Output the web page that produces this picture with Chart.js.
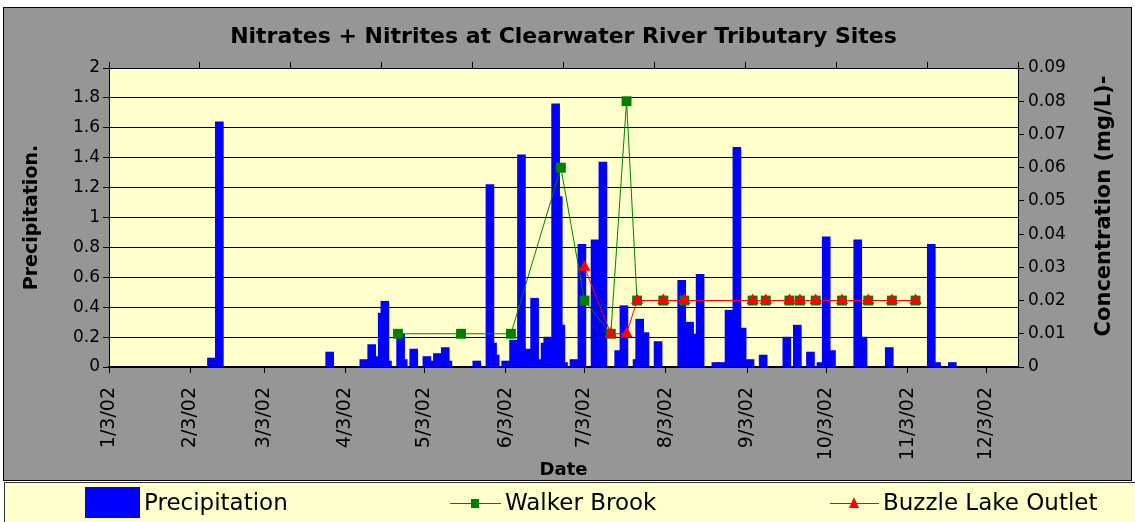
<!DOCTYPE html>
<html>
<head>
<meta charset="utf-8">
<script src="https://cdn.jsdelivr.net/npm/chart.js@4.4.1/dist/chart.umd.min.js"></script>
<style>
  html, body { margin: 0; padding: 0; background: #fff; }
  #wrap { width: 1135px; height: 522px; }
</style>
</head>
<body>
<div id="wrap"><canvas id="grafico" width="1135" height="522"></canvas></div>
<script>
// dados (datas em m/d de 2002)
const tickLabels = ['1/3/02', '2/3/02', '3/3/02', '4/3/02', '5/3/02', '6/3/02',
  '7/3/02', '8/3/02', '9/3/02', '10/3/02', '11/3/02', '12/3/02'];

const precipDates = ['2/11', '2/14', '3/28', '4/10', '4/13', '4/14', '4/17', '4/18', '4/19',
  '4/24', '4/25', '4/29', '5/4', '5/5', '5/8', '5/11', '5/12', '5/23', '5/28', '5/29', '5/30',
  '6/3', '6/6', '6/9', '6/11', '6/12', '6/14', '6/16', '6/17', '6/18', '6/19', '6/22', '6/23',
  '6/24', '6/25', '6/29', '7/2', '7/7', '7/10', '7/16', '7/18', '7/23', '7/24', '7/26', '7/31',
  '8/9', '8/12', '8/14', '8/16', '8/22', '8/24', '8/27', '8/30', '9/1', '9/4', '9/9', '9/18',
  '9/22', '9/27', '10/1', '10/3', '10/5', '10/15', '10/17', '10/27', '11/12', '11/14', '11/20'];
const precipValues = [0.06, 1.64, 0.10, 0.05, 0.15, 0.07, 0.36, 0.44, 0.04,
  0.22, 0.05, 0.12, 0.07, 0.04, 0.09, 0.13, 0.04, 0.04, 1.22, 0.16, 0.08,
  0.04, 0.18, 1.42, 0.09, 0.12, 0.46, 0.03, 0.05, 0.16, 0.20, 1.76, 1.14,
  0.28, 0.03, 0.05, 0.82, 0.85, 1.37, 0.11, 0.41, 0.05, 0.32, 0.23, 0.17,
  0.58, 0.30, 0.22, 0.62, 0.03, 0.03, 0.38, 1.47, 0.26, 0.05, 0.08, 0.20,
  0.28, 0.10, 0.03, 0.87, 0.11, 0.85, 0.20, 0.13, 0.82, 0.03, 0.03];

const walkerDates = ['4/23', '5/17', '6/5', '6/24', '7/3', '7/13', '7/19', '7/23', '8/2', '8/10',
  '9/5', '9/10', '9/19', '9/23', '9/29', '10/9', '10/19', '10/28', '11/6'];
const walkerValues = [0.01, 0.01, 0.01, 0.06, 0.02, 0.01, 0.08, 0.02, 0.02, 0.02,
  0.02, 0.02, 0.02, 0.02, 0.02, 0.02, 0.02, 0.02, 0.02];

const buzzleDates = ['7/3', '7/13', '7/19', '7/23', '8/2', '8/10', '9/5', '9/10', '9/19',
  '9/23', '9/29', '10/9', '10/19', '10/28', '11/6'];
const buzzleValues = [0.03, 0.01, 0.01, 0.02, 0.02, 0.02, 0.02, 0.02, 0.02,
  0.02, 0.02, 0.02, 0.02, 0.02, 0.02];

// dias desde 3/1/2002
function dia(s) {
  const [m, d] = s.split('/').map(Number);
  return (Date.UTC(2002, m - 1, d) - Date.UTC(2002, 0, 3)) / 864e5;
}
const pontos = (datas, vals) => datas.map((d, i) => ({ x: dia(d), y: vals[i] }));

const FONTE = 'DejaVu Sans';
const AMARELO = '#FFFFCC';
const CINZA = '#969696';

const fundoPlugin = {
  id: 'fundo',
  beforeDraw(chart) {
    const { ctx, chartArea: a } = chart;
    ctx.save();
    ctx.fillStyle = '#fff';
    ctx.fillRect(0, 0, chart.width, chart.height);
    ctx.fillStyle = CINZA;
    ctx.fillRect(3, 7, 1129, 474);
    ctx.strokeStyle = '#000';
    ctx.lineWidth = 1;
    ctx.strokeRect(3.5, 7.5, 1128, 473);
    ctx.fillStyle = AMARELO;
    ctx.fillRect(4, 482, 1131, 40);
    ctx.strokeStyle = '#333';
    ctx.strokeRect(4.5, 482.5, 1131, 40);
    ctx.fillStyle = AMARELO;
    ctx.fillRect(a.left, a.top, a.right - a.left, a.bottom - a.top);
    ctx.restore();
  },
  afterDraw(chart) {
    const { ctx } = chart;
    const ds = chart.data.datasets;
    ctx.save();
    // título do eixo direito (lido de baixo para cima)
    ctx.fillStyle = '#000';
    ctx.font = 'bold 21px "' + FONTE + '"';
    ctx.textAlign = 'center';
    ctx.textBaseline = 'middle';
    ctx.translate(1105, 206);
    ctx.rotate(-Math.PI / 2);
    ctx.fillText('Concentration (mg/L)-', 0, 0);
    ctx.restore();

    // legenda
    ctx.save();
    const ly = 503;
    ctx.font = '23px "' + FONTE + '"';
    ctx.textBaseline = 'middle';
    ctx.textAlign = 'left';
    ctx.fillStyle = ds[0].backgroundColor;
    ctx.fillRect(85, 487, 55, 31);
    ctx.fillStyle = '#000';
    ctx.fillText(ds[0].label, 144, ly + 1);

    ctx.strokeStyle = ds[1].borderColor;
    ctx.lineWidth = 1;
    ctx.beginPath(); ctx.moveTo(450, ly + 0.5); ctx.lineTo(501, ly + 0.5); ctx.stroke();
    ctx.fillStyle = ds[1].pointBackgroundColor;
    ctx.fillRect(471, ly - 4, 8, 9);
    ctx.fillStyle = '#000';
    ctx.fillText(ds[1].label, 505, ly + 1);

    ctx.strokeStyle = ds[2].borderColor;
    ctx.beginPath(); ctx.moveTo(830, ly + 0.5); ctx.lineTo(879, ly + 0.5); ctx.stroke();
    ctx.fillStyle = ds[2].pointBackgroundColor;
    ctx.beginPath(); ctx.moveTo(854, ly - 6); ctx.lineTo(859, ly + 5); ctx.lineTo(849, ly + 5); ctx.closePath(); ctx.fill();
    ctx.fillStyle = '#000';
    ctx.fillText(ds[2].label, 883, ly + 1);
    ctx.restore();
  }
};

new Chart(document.getElementById('grafico'), {
  type: 'bar',
  data: {
    datasets: [
      {
        type: 'bar', label: 'Precipitation', data: pontos(precipDates, precipValues),
        xAxisID: 'x', yAxisID: 'y', backgroundColor: '#0000FF', borderWidth: 0,
        barThickness: 8, order: 2
      },
      {
        type: 'line', label: 'Walker Brook', data: pontos(walkerDates, walkerValues),
        xAxisID: 'x', yAxisID: 'y1', borderColor: '#008000', borderWidth: 1,
        pointStyle: 'rect', pointRadius: 7, pointBackgroundColor: '#008000',
        pointBorderWidth: 0, tension: 0, order: 1
      },
      {
        type: 'line', label: 'Buzzle Lake Outlet', data: pontos(buzzleDates, buzzleValues),
        xAxisID: 'x', yAxisID: 'y1', borderColor: '#FF0000', borderWidth: 1,
        pointStyle: 'triangle', pointRadius: 7, pointBackgroundColor: '#FF0000',
        pointBorderWidth: 0, tension: 0, order: 0
      }
    ]
  },
  options: {
    responsive: false,
    animation: false,
    devicePixelRatio: 1,
    layout: { padding: { left: 4, right: 3, top: 8, bottom: 41 } },
    plugins: {
      legend: { display: false },
      tooltip: { enabled: false },
      title: {
        display: true,
        fullSize: false,
        text: 'Nitrates + Nitrites at Clearwater River Tributary Sites',
        color: '#000',
        font: { family: FONTE, size: 22, weight: 'bold', lineHeight: 1.2 },
        padding: { top: 16, bottom: 2 }
      }
    },
    scales: {
      x: {
        type: 'linear', position: 'bottom', min: 0, max: 346, offset: false,
        afterBuildTicks: s => { s.ticks = tickLabels.map(t => ({ value: dia(t) })); },
        afterFit: s => { s.height = 114; },
        ticks: {
          autoSkip: false, minRotation: 90, maxRotation: 90, padding: 14,
          color: '#000', font: { family: FONTE, size: 19 },
          callback: (v, i) => tickLabels[i]
        },
        grid: { offset: false, drawOnChartArea: false, drawTicks: true, tickLength: 6, color: '#000' },
        border: { color: '#000', width: 2 },
        title: {
          display: true, text: 'Date', color: '#000',
          font: { family: FONTE, size: 18, weight: 'bold' }, padding: { top: 0, bottom: 0 }
        }
      },
      x2: {
        type: 'linear', position: 'top', min: 0, max: 10, offset: false,
        afterFit: s => { s.height = 15.6; },
        ticks: { display: false, stepSize: 1 },
        grid: { offset: false, drawOnChartArea: false, drawTicks: true, tickLength: 6, color: '#000' },
        border: { color: '#000', width: 1 }
      },
      y: {
        position: 'left', min: 0, max: 2,
        afterFit: s => { s.width = 105; },
        ticks: {
          stepSize: 0.2, padding: 3, color: '#000', font: { family: FONTE, size: 17 },
          callback: v => String(+v.toFixed(1))
        },
        grid: { color: '#000', lineWidth: 1, tickLength: 6 },
        border: { color: '#000', width: 1 },
        title: {
          display: true, text: 'Precipitation.', color: '#000',
          font: { family: FONTE, size: 19, weight: 'bold' }, padding: { top: 17, bottom: 0 }
        }
      },
      y1: {
        position: 'right', min: 0, max: 0.09,
        afterFit: s => { s.width = 114; },
        ticks: {
          stepSize: 0.01, padding: 4, color: '#000', font: { family: FONTE, size: 17 },
          callback: v => String(+v.toFixed(2))
        },
        grid: { drawOnChartArea: false, color: '#000', tickLength: 6 },
        border: { color: '#000', width: 1 }
      }
    }
  },
  plugins: [fundoPlugin]
});
</script>
</body>
</html>
